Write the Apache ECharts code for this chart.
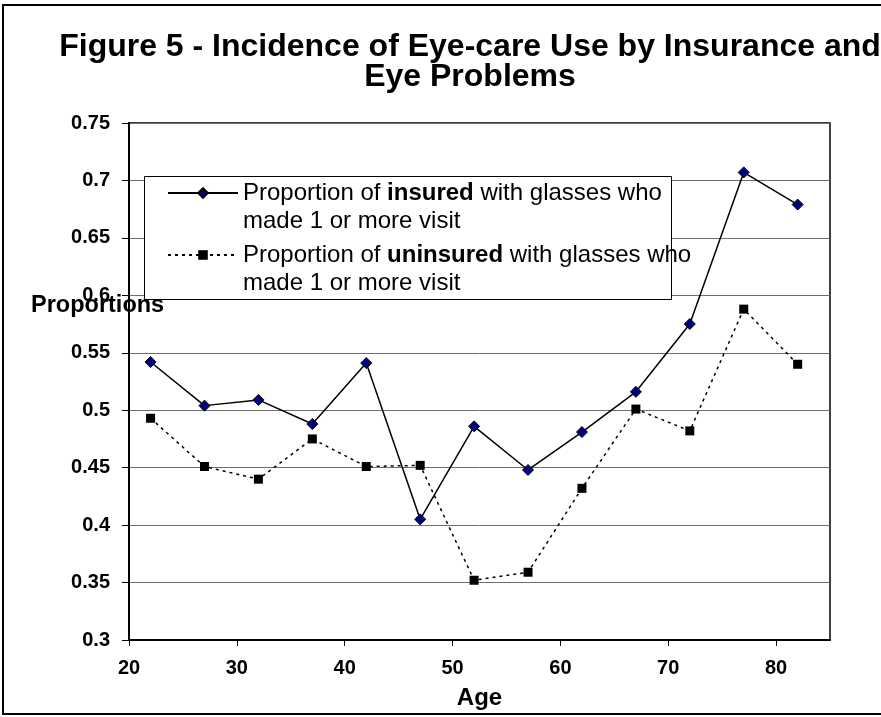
<!DOCTYPE html>
<html>
<head>
<meta charset="utf-8">
<script src="https://cdn.jsdelivr.net/npm/echarts@6/dist/echarts.min.js"></script>
<style>
html,body{margin:0;padding:0;background:#fff;}
#c{width:881px;height:717px;}
</style>
</head>
<body>
<div id="c"></div>
<script>
var ages = [22, 27, 32, 37, 42, 47, 52, 57, 62, 67, 72, 77, 82];
var insured = [0.542, 0.504, 0.509, 0.488, 0.541, 0.405, 0.486, 0.448, 0.481, 0.516, 0.575, 0.707, 0.679];
var uninsured = [0.493, 0.451, 0.440, 0.475, 0.451, 0.452, 0.352, 0.359, 0.432, 0.501, 0.482, 0.588, 0.540];
var seriesNames = [
  'Proportion of insured with glasses who made 1 or more visit',
  'Proportion of uninsured with glasses who made 1 or more visit'
];
var legendLabels = [
  '{n|Proportion of }{b|insured}{n| with glasses who}\n{n|made 1 or more visit}',
  '{n|Proportion of }{b|uninsured}{n| with glasses who}\n{n|made 1 or more visit}'
];
var titleText = 'Figure 5 - Incidence of Eye-care Use by Insurance and\nEye Problems';
var yName = 'Proportions';
var xName = 'Age';

var FF = '"Liberation Sans", Arial, sans-serif';

function pairs(xs, ys) { return xs.map(function (x, i) { return [x, ys[i]]; }); }

var legendText = {
  fontSize: 24, fontFamily: FF, color: '#000', lineHeight: 28.5,
  padding: [28.5, 0, 0, 0],
  rich: {
    n: { fontSize: 24, fontFamily: FF, color: '#000', lineHeight: 28.5 },
    b: { fontSize: 24, fontFamily: FF, color: '#000', lineHeight: 28.5, fontWeight: 'bold' }
  }
};
function mkLegend(i, top) {
  return {
    data: [seriesNames[i]], left: 167, top: top, orient: 'vertical', padding: 0,
    itemWidth: 70, itemHeight: 12, selectedMode: false, z: 20,
    textStyle: legendText,
    formatter: function () { return legendLabels[i]; }
  };
}

var chart = echarts.init(document.getElementById('c'), null, { renderer: 'canvas' });
chart.setOption({
  backgroundColor: '#fff',
  animation: false,
  grid: { left: 129, right: 51, top: 123, bottom: 77, show: true, borderColor: '#000', borderWidth: 1.5, backgroundColor: 'transparent' },
  xAxis: {
    type: 'value', min: 20, max: 85, interval: 10,
    name: xName, nameLocation: 'middle', nameGap: 46,
    nameTextStyle: { fontSize: 24, fontWeight: 'bold', fontFamily: FF, color: '#000' },
    axisLine: { show: true, lineStyle: { color: '#000', width: 2 } },
    axisTick: { show: true, inside: false, length: 6, lineStyle: { color: '#000', width: 1 } },
    axisLabel: { fontSize: 20, fontWeight: 'bold', fontFamily: FF, color: '#000', margin: 18, showMaxLabel: false },
    splitLine: { show: false }
  },
  yAxis: {
    type: 'value', min: 0.3, max: 0.75, interval: 0.05,
    axisLine: { show: true, lineStyle: { color: '#000', width: 2 } },
    axisTick: { show: true, inside: false, length: 7, lineStyle: { color: '#000', width: 1 } },
    axisLabel: {
      fontSize: 20, fontWeight: 'bold', fontFamily: FF, color: '#000', margin: 19,
      formatter: function (v) { return String(Number(v.toFixed(2))); }
    },
    splitLine: { show: true, lineStyle: { color: '#6e6e6e', width: 1 } }
  },
  legend: [mkLegend(0, 150.25), mkLegend(1, 212.25)],
  graphic: [
    { type: 'rect', z: -10, shape: { x: 3, y: 5, width: 1000, height: 709 }, style: { fill: 'none', stroke: '#000', lineWidth: 2 } },
    { type: 'text', z: 10, x: 470, y: 32, style: { text: titleText, fontSize: 32, fontWeight: 'bold', fontFamily: FF, fill: '#000', align: 'center', verticalAlign: 'top', lineHeight: 30 } },
    { type: 'text', z: 10, x: 31, y: 306, style: { text: yName, fontSize: 23.5, fontWeight: 'bold', fontFamily: FF, fill: '#000', align: 'left', verticalAlign: 'middle' } },
    { type: 'rect', z: 15, shape: { x: 144.5, y: 176.5, width: 527, height: 123 }, style: { fill: '#fff', stroke: '#000', lineWidth: 1 } }
  ],
  series: [
    {
      name: seriesNames[0], type: 'line', data: pairs(ages, insured),
      symbol: 'diamond', symbolSize: 11, showSymbol: true,
      lineStyle: { color: '#000', width: 1.5, type: 'solid' },
      itemStyle: { color: '#000080', borderColor: '#000', borderWidth: 1 },
      z: 3
    },
    {
      name: seriesNames[1], type: 'line', data: pairs(ages, uninsured),
      symbol: 'rect', symbolSize: 9, showSymbol: true,
      lineStyle: { color: '#000', width: 1.5, type: [3, 4] },
      itemStyle: { color: '#000', borderColor: '#000', borderWidth: 0 },
      z: 4
    }
  ]
});
</script>
</body>
</html>
